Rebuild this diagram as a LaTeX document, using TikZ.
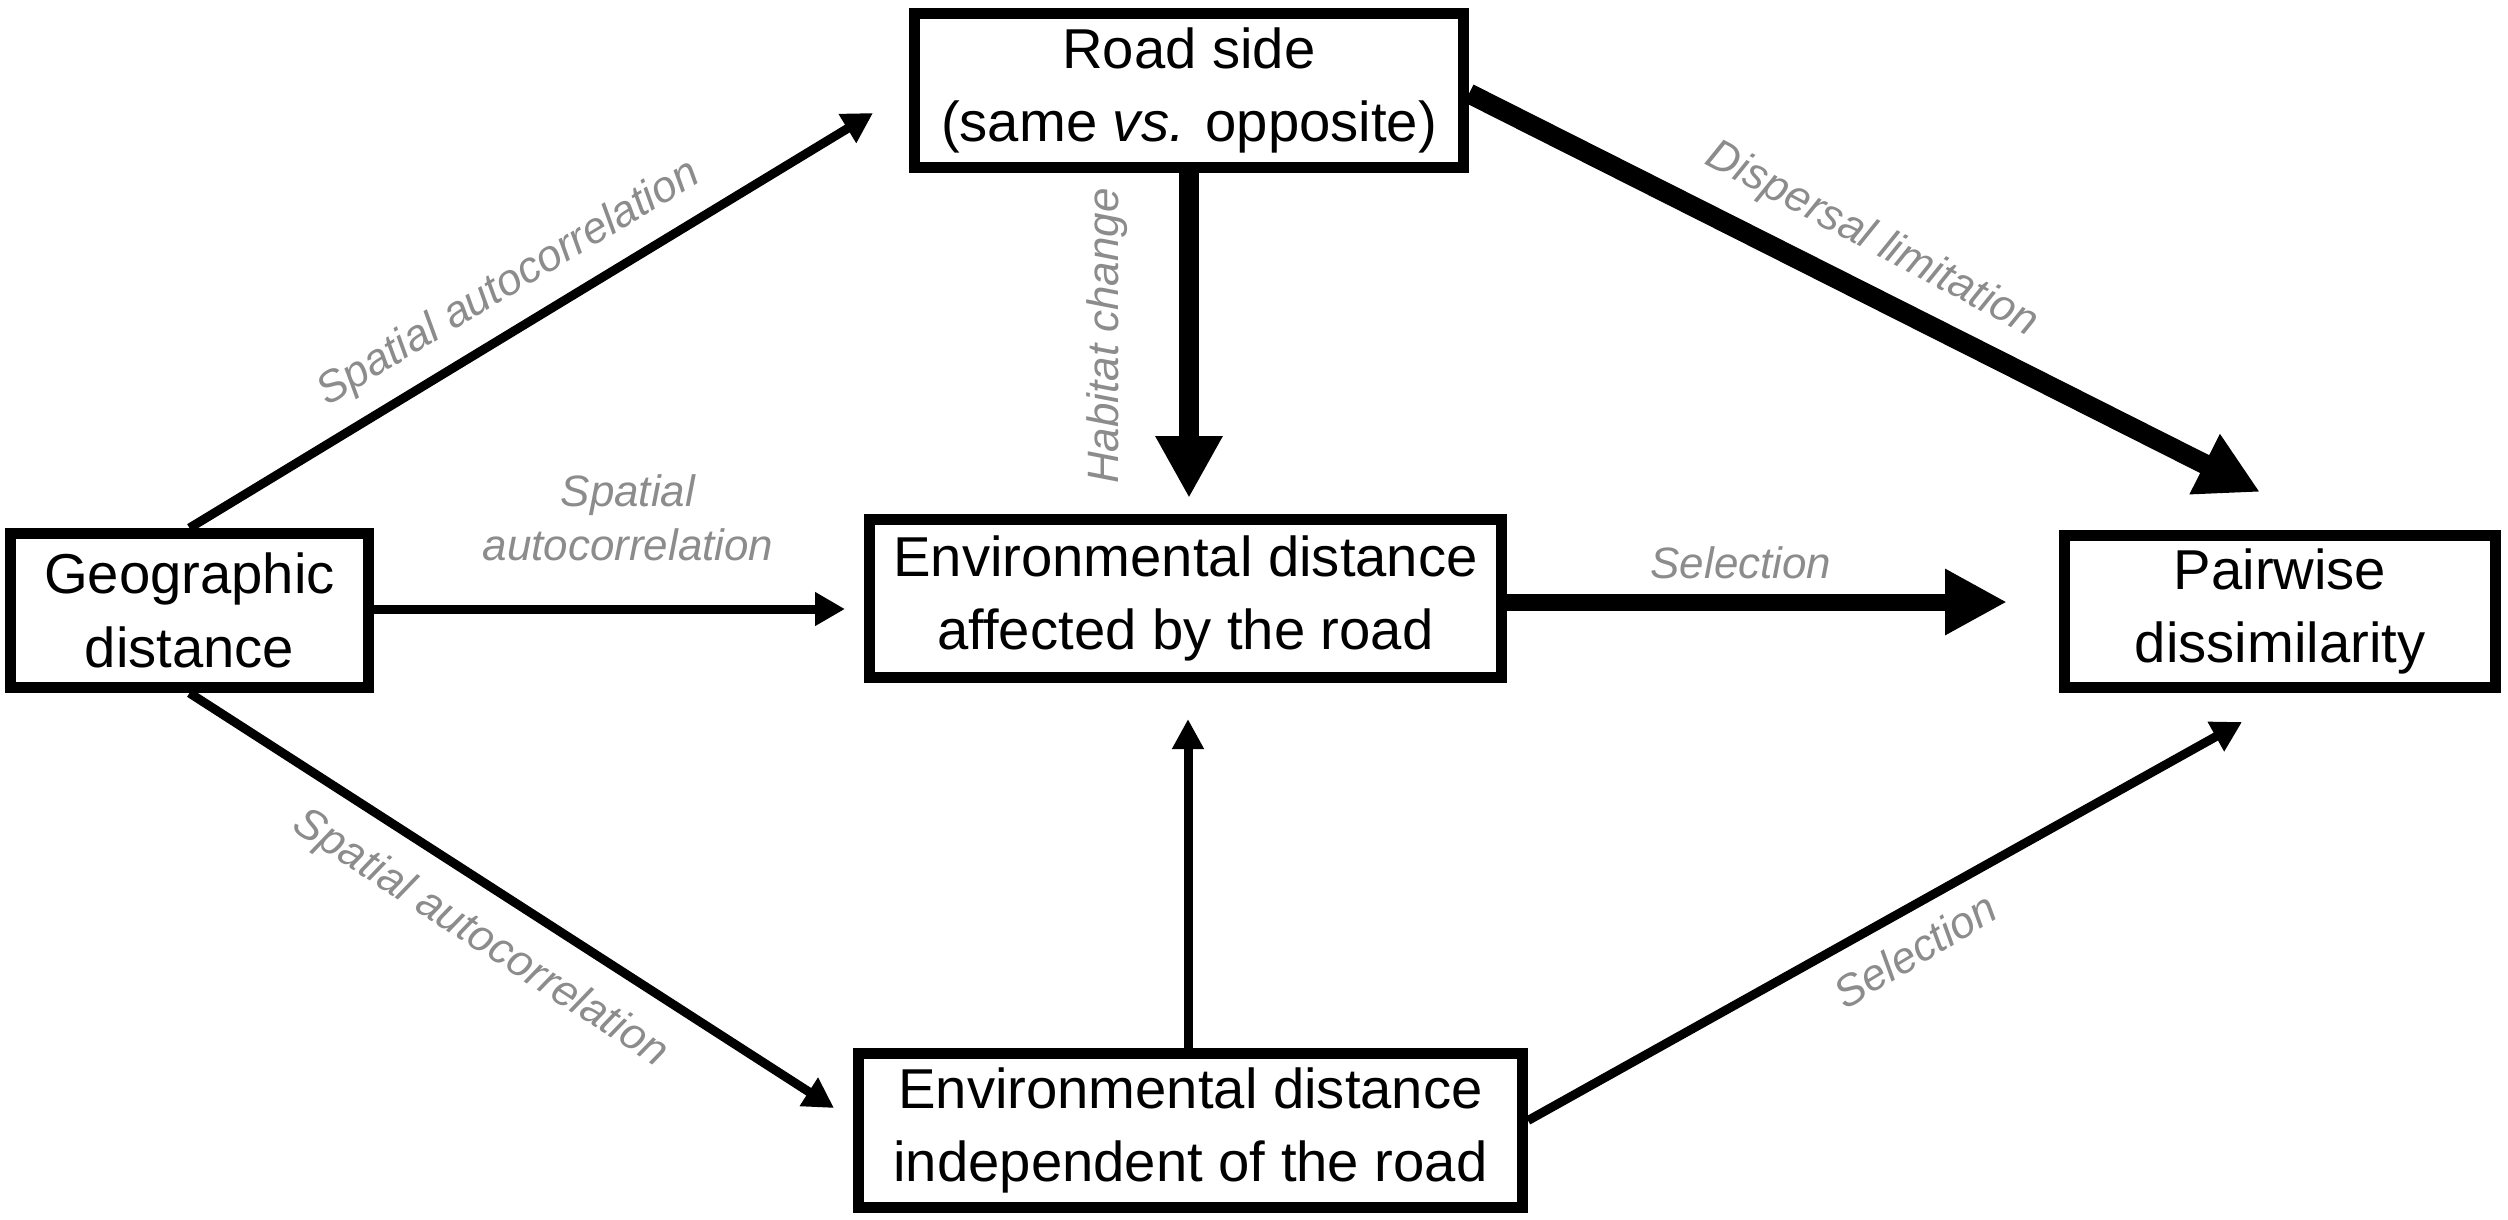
\documentclass[tikz,border=0pt]{standalone}
\usepackage{fontspec}
\setmainfont{Liberation Sans}
\usetikzlibrary{arrows.meta,calc}
\definecolor{labelgray}{HTML}{8C8C8C}
\begin{document}
\begin{tikzpicture}[x=0.2mm,y=-0.2mm,
  box/.style={draw,line width=2.2mm,align=center,inner sep=0pt,
    font=\fontsize{32}{42}\selectfont},
  lbl/.style={text=labelgray,inner sep=0pt,align=center,
    font=\fontsize{25}{31}\selectfont\itshape},
  medarrow/.style={line width=1.8mm,-{Triangle[length=6mm,width=6.4mm]}},
  thinarrow/.style={line width=1.8mm,-{Triangle[length=6mm,width=6mm]}},
  thickarrow/.style={line width=4mm,-{Triangle[length=12.4mm,width=12.6mm]}},
  selarrow/.style={line width=3.4mm,-{Triangle[length=12.4mm,width=12.4mm]}}]
\useasboundingbox[fill=white] (0,0) rectangle (2508,1219);

% boxes
\node[box,minimum width=109.8mm,minimum height=30.8mm] (road) at (1189,90.5)
  {Road side\\(same \textit{vs.} opposite)};
\node[box,minimum width=71.6mm,minimum height=30.8mm] (geo) at (189.5,610.5)
  {Geographic\\distance};
\node[box,minimum width=126.4mm,minimum height=31.6mm] (aff) at (1185.5,598.5)
  {Environmental distance\\affected by the road};
\node[box,minimum width=86.2mm,minimum height=30.4mm] (pair) at (2280,611.5)
  {Pairwise\\dissimilarity};
\node[box,minimum width=132.8mm,minimum height=30.8mm] (ind) at (1190.5,1130.5)
  {Environmental distance\\independent of the road};

% free arrow ends
\coordinate (t1) at (873,113);
\coordinate (t3) at (834,1108);
\coordinate (t5) at (2260,492);
\coordinate (t8) at (2242,722);

% connectors
\draw[medarrow] (geo.north) -- (t1);
\draw[medarrow,shorten >=3.8mm] (geo.east |- 0,609) -- (aff.west |- 0,609);
\draw[medarrow] (geo.south) -- (t3);
\draw[thickarrow,shorten >=3.2mm] (road.south) -- (road.south |- aff.north);
\draw[thickarrow] ($(road.east)+(0,3)$) -- (t5);
\draw[selarrow,shorten >=10.4mm] (aff.east |- 0,602) -- (pair.west |- 0,602);
\draw[thinarrow,shorten >=7.2mm] (1188,1048) -- (aff.south -| 1188,0);
\draw[medarrow] ($(ind.east)+(0,-10)$) -- (t8);

% labels
\node[lbl,rotate=31] (l1) at (509,284) {Spatial autocorrelation};
\node[lbl] (l2) at (628,518) {Spatial\\autocorrelation};
\node[lbl,rotate=90] (l3) at (1107,336) {Habitat change};
\node[lbl,rotate=-28] (l4) at (1872,240) {Dispersal limitation};
\node[lbl] (l5) at (1741,563) {Selection};
\node[lbl,rotate=-33] (l6) at (480,939) {Spatial autocorrelation};
\node[lbl,rotate=31] (l7) at (1915,950) {Selection};
\end{tikzpicture}
\end{document}
